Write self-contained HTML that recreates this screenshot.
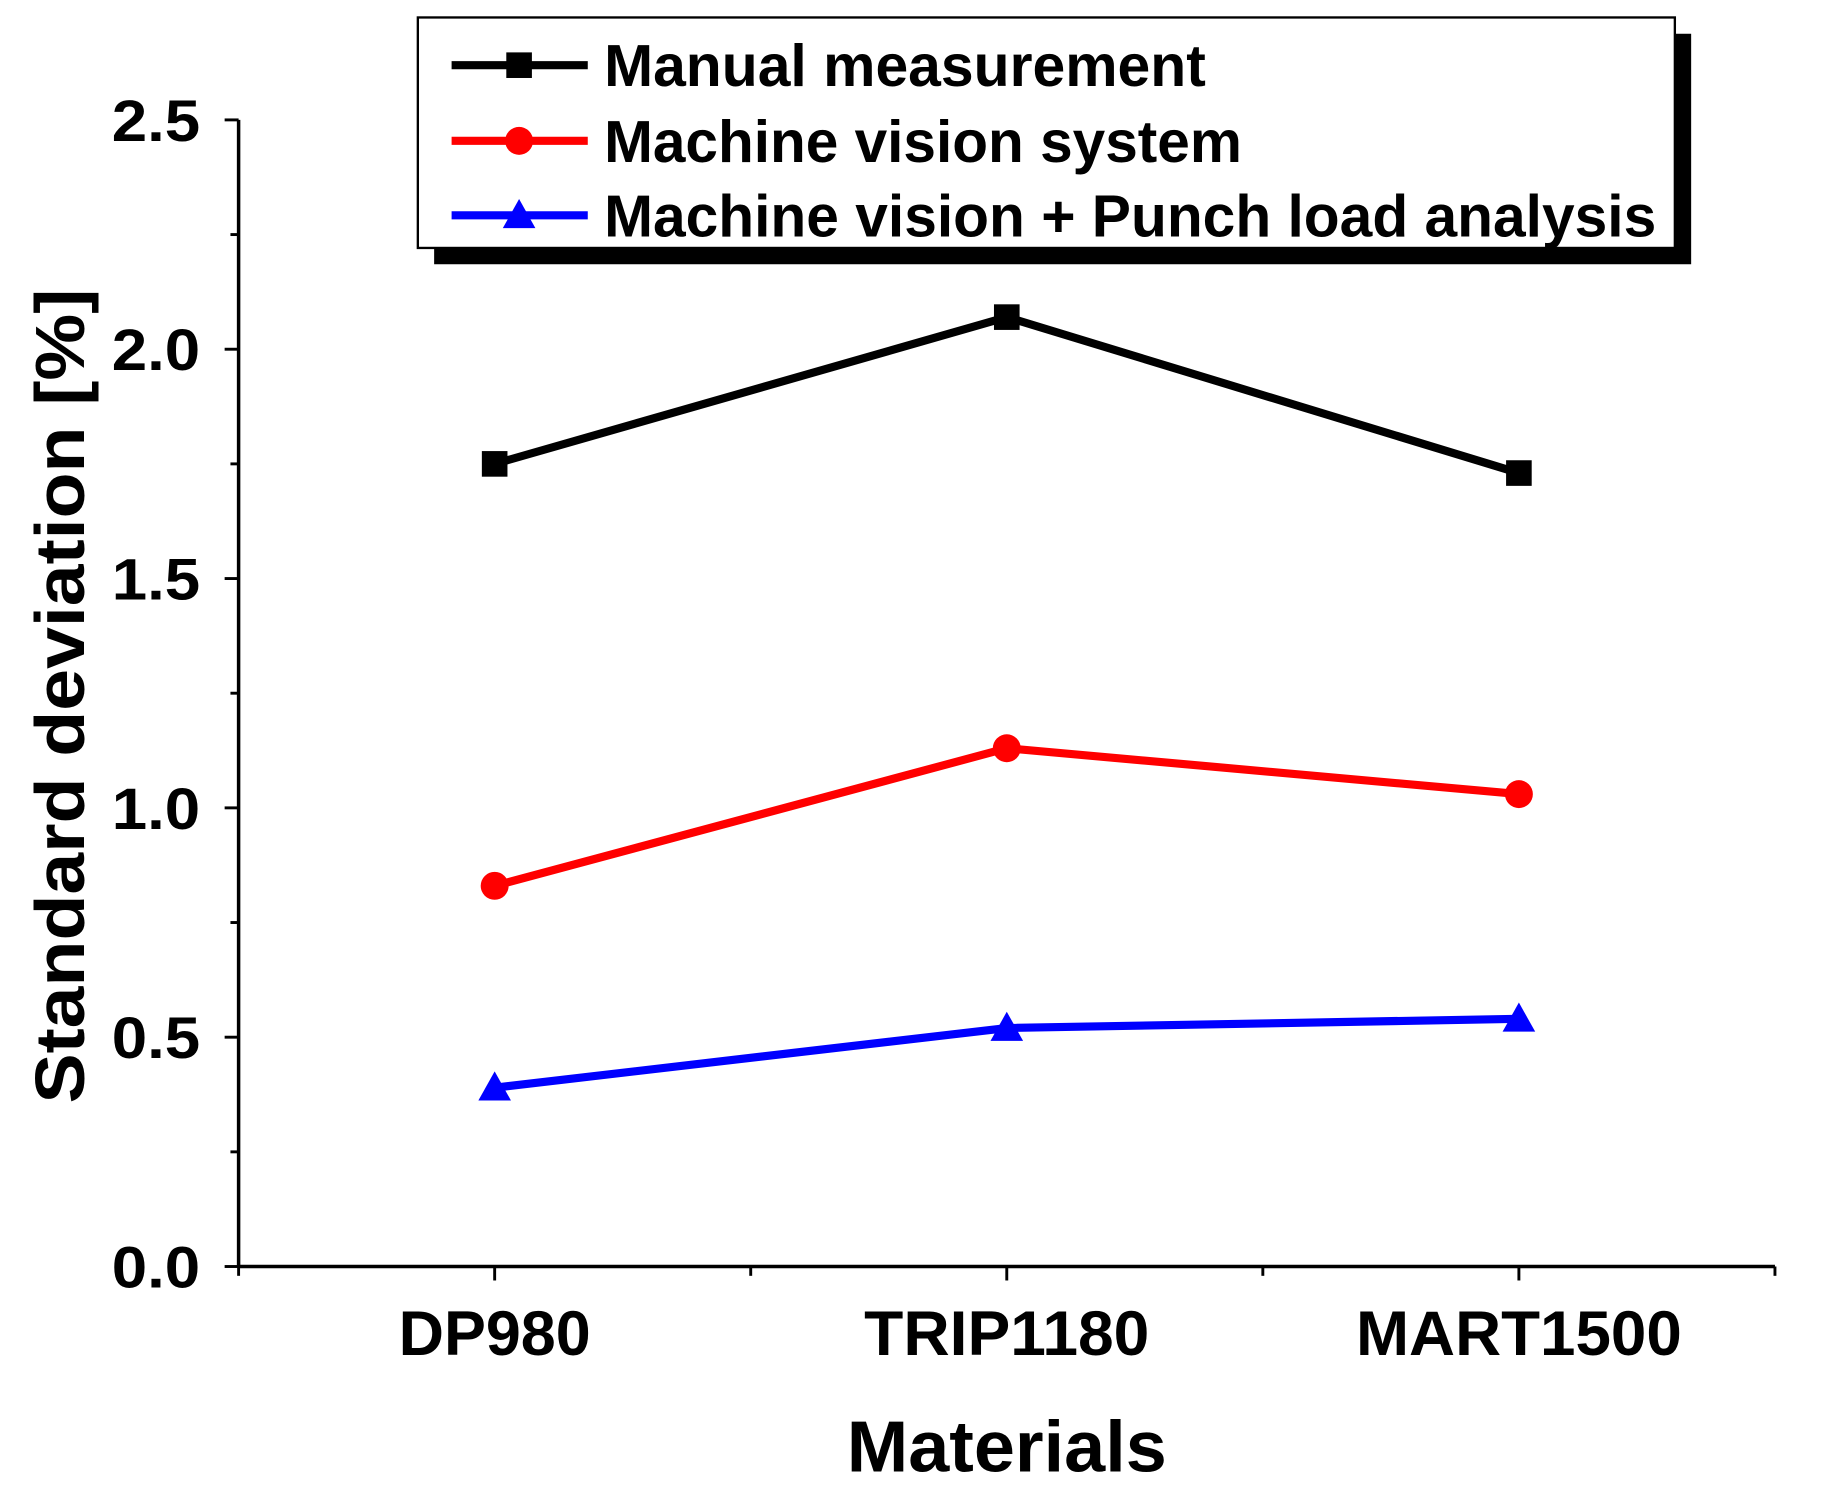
<!DOCTYPE html>
<html><head><meta charset="utf-8"><style>html,body{margin:0;padding:0;background:#fff}svg{display:block}text{font-family:"Liberation Sans",sans-serif;font-weight:bold}</style></head>
<body>
<svg id="chart" width="1825" height="1497" viewBox="0 0 1568 1286" preserveAspectRatio="none" xmlns="http://www.w3.org/2000/svg">
<g id="axes"></g>
<g id="series"></g>
<g id="legend">
  <rect x="373" y="29" width="1080" height="198" fill="#000"/>
  <rect x="359" y="15" width="1080" height="198" fill="#fff" stroke="#000" stroke-width="2"/>
</g>
<text x="865" y="1264" font-size="62" text-anchor="middle" textLength="275" lengthAdjust="spacingAndGlyphs">Materials</text>
<text transform="translate(72,598) rotate(-90)" font-size="60" text-anchor="middle" textLength="700" lengthAdjust="spacingAndGlyphs">Standard deviation [%]</text>
</svg>
<script>
const categories = ["DP980", "TRIP1180", "MART1500"];
const manual = [1.75, 2.07, 1.73];
const vision = [0.83, 1.13, 1.03];
const visionPunch = [0.39, 0.52, 0.54];
const yTicks = ["0.0", "0.5", "1.0", "1.5", "2.0", "2.5"];
const seriesNames = ["Manual measurement", "Machine vision system", "Machine vision + Punch load analysis"];
const legendWidths = [517, 548, 904];
const catWidths = [165, 245, 280];

const NS = "http://www.w3.org/2000/svg";
const X0 = 205, X1 = 1525, Y0 = 1088, YTOP = 103, YMAX = 2.5;
function xs(i){ return X0 + (X1 - X0) * (i + 0.5) / categories.length; }
function ys(v){ return Y0 - (Y0 - YTOP) * v / YMAX; }
function mk(tag, attrs, parent){ const e = document.createElementNS(NS, tag); for (const k in attrs) e.setAttribute(k, attrs[k]); parent.appendChild(e); return e; }

const axes = document.getElementById('axes');
let el = mk('line', {x1:X0, y1:YTOP, x2:X0, y2:Y0+1, stroke:'#000','stroke-width':3}, axes);


el = mk('line', {x1:X0-1, y1:Y0, x2:X1, y2:Y0, stroke:'#000','stroke-width':3}, axes);


for (let i = 0; i <= 10; i++) {
  const v = i * 0.25, y = ys(v), major = i % 2 === 0;
  el = mk('line', {x1:X0 - (major ? 12 : 7), y1:y, x2:X0, y2:y, stroke:'#000','stroke-width':2.5}, axes);
  
  
}
yTicks.forEach(function(t){
  el = mk('text', {x:172, y:ys(parseFloat(t)) + 18, 'font-size':50, 'text-anchor':'end', textLength:76, lengthAdjust:'spacingAndGlyphs'}, axes);
  el.textContent = t;
  
  
});
for (let i = 0; i <= categories.length * 2; i++) {
  const x = X0 + (X1 - X0) * i / (categories.length * 2);
  el = mk('line', {x1:x, y1:Y0, x2:x, y2:Y0 + (i % 2 ? 12 : 8), stroke:'#000','stroke-width':2.5}, axes);
  
  
}
categories.forEach(function(c, i){
  el = mk('text', {x:xs(i), y:1164, 'font-size':54, 'text-anchor':'middle', textLength:catWidths[i], lengthAdjust:'spacingAndGlyphs'}, axes);
  el.textContent = c;
  
  
});

function marker(parent, type, x, y, color){
  let m;
  if (type === 'square') m = mk('rect', {x:x-11, y:y-11, width:22, height:22, fill:color}, parent);
  else if (type === 'circle') m = mk('circle', {cx:x, cy:y, r:12, fill:color}, parent);
  else m = mk('polygon', {points:(x)+','+(y-14)+' '+(x-14)+','+(y+11)+' '+(x+14)+','+(y+11), fill:color}, parent);
  return m;
}
const seriesG = document.getElementById('series');
const allSeries = [[manual,'#000','square','manual'],[vision,'#f00','circle','vision'],[visionPunch,'#00f','triangle','vision-punch']];
allSeries.forEach(function(s){
  const pts = s[0].map(function(v,i){ return xs(i)+','+ys(v); }).join(' ');
  el = mk('polyline', {points:pts, fill:'none', stroke:s[1], 'stroke-width':7}, seriesG);
  
  
  s[0].forEach(function(v,i){
    el = marker(seriesG, s[2], xs(i), ys(v), s[1]);
    
    
  });
});

const legend = document.getElementById('legend');
const ly = [56, 121, 185];
allSeries.forEach(function(s, i){
  el = mk('line', {x1:388, y1:ly[i], x2:505, y2:ly[i], stroke:s[1], 'stroke-width':7}, legend);
  
  
  el = marker(legend, s[2], 446, ly[i], s[1]);
  
  
  el = mk('text', {x:519, y:ly[i] + 18, 'font-size':51, textLength:legendWidths[i], lengthAdjust:'spacingAndGlyphs'}, legend);
  el.textContent = seriesNames[i];
  
  
});
</script>
</body></html>
